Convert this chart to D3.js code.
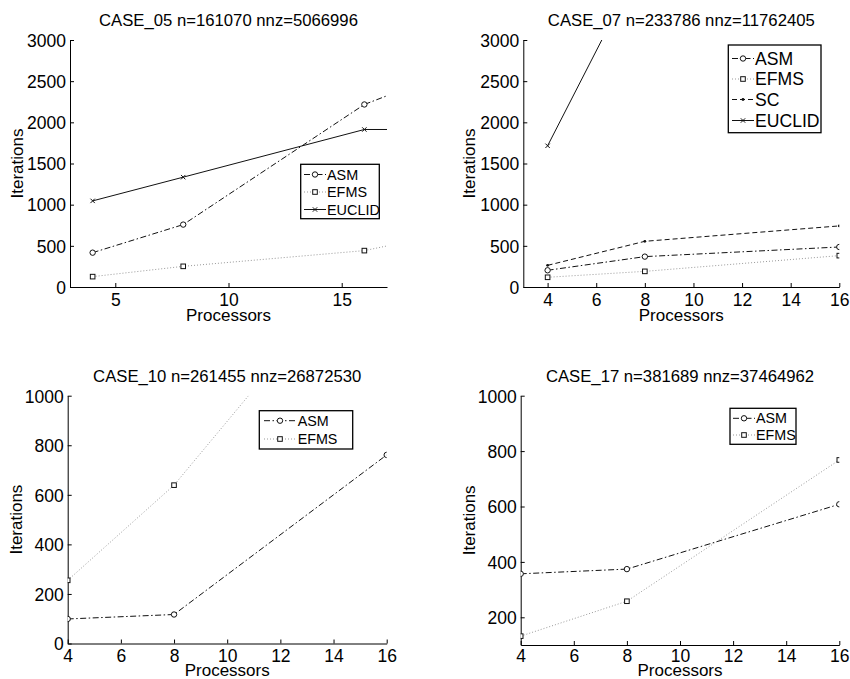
<!DOCTYPE html>
<html>
<head>
<meta charset="utf-8">
<script src="https://cdn.jsdelivr.net/npm/d3@7"></script>
<style>
  body { margin: 0; background: #fff; }
  svg { font-family: "Liberation Sans", Arial, sans-serif; }
  svg text { font-family: "Liberation Sans", Arial, sans-serif; }
</style>
</head>
<body>
<div id="main"></div>
<script>
// values (points past the axis limits are clipped)
const case05Procs = [4, 8, 16, 32];
const case05ASM = [417, 758, 2217, 3910];
const case05EFMS = [126, 251, 442, 1350];
const case05EUCLID = [1046, 1334, 1913, 1913];

const case07Procs = [4, 8, 16];
const case07ASM = [203, 369, 486];
const case07EFMS = [118, 190, 381];
const case07SC = [263, 555, 742];
const case07EUCLID = [1715, 4020, 5600];

const case10Procs = [4, 8, 16];
const case10ASM = [99, 117, 761];
const case10EFMS = [255, 639, 1670];

const case17Procs = [4, 8, 16];
const case17ASM = [357, 374, 608];
const case17EFMS = [132, 258, 768];

const titles = [
  'CASE_05 n=161070 nnz=5066996',
  'CASE_07 n=233786 nnz=11762405',
  'CASE_10 n=261455 nnz=26872530',
  'CASE_17 n=381689 nnz=37464962'
];

const styles = {
  ASM:    { color: '#111', dash: '6,2.5,1.5,2.5', marker: 'circle' },
  EFMS:   { color: '#999', dash: '1,2',           marker: 'square' },
  SC:     { color: '#111', dash: '5,3',           marker: 'dot' },
  EUCLID: { color: '#111', dash: null,            marker: 'cross' }
};

const panels = [
  { title: titles[0], procs: case05Procs,
    series: { ASM: case05ASM, EFMS: case05EFMS, EUCLID: case05EUCLID },
    xDomain: [3, 17], xTicks: [5, 10, 15], yDomain: [0, 3000], yTicks: d3.range(0, 3001, 500),
    l: 70, r: 387, t: 40, b: 287, xLabY: 321, yLabX: 17, titleY: 26, tickY: 306,
    legend: { x: 300.7, y: 164.3, w: 78.6, h: 54.4, rows: [174.5, 192, 209.5], s0: 304, s1: 326, tx: 327, fs: 14.4 } },
  { title: titles[1], procs: case07Procs,
    series: { ASM: case07ASM, EFMS: case07EFMS, SC: case07SC, EUCLID: case07EUCLID },
    xDomain: [3, 16], xTicks: d3.range(4, 17, 2), yDomain: [0, 3000], yTicks: d3.range(0, 3001, 500),
    l: 523.3, r: 839.3, t: 40, b: 287, xLabY: 321, yLabX: 469, titleY: 26, tickY: 306,
    legend: { x: 728.3, y: 45, w: 92.7, h: 87.7, rows: [58.5, 79, 99.5, 120.5], s0: 732, s1: 754, tx: 755, fs: 17.6 } },
  { title: titles[2], procs: case10Procs,
    series: { ASM: case10ASM, EFMS: case10EFMS },
    xDomain: [4, 16], xTicks: d3.range(4, 17, 2), yDomain: [0, 1000], yTicks: d3.range(0, 1001, 200),
    l: 67.7, r: 386.7, t: 395.7, b: 643.5, xLabY: 675.5, yLabX: 16, titleY: 382, tickY: 661.5,
    legend: { x: 259.3, y: 410.7, w: 93.4, h: 38.3, rows: [420.7, 439], s0: 264, s1: 296, tx: 297.7, fs: 14.3 } },
  { title: titles[3], procs: case17Procs,
    series: { ASM: case17ASM, EFMS: case17EFMS },
    xDomain: [4, 16], xTicks: d3.range(4, 17, 2), yDomain: [100, 1000], yTicks: d3.range(200, 1001, 200),
    l: 520.7, r: 839.3, t: 395.7, b: 645, xLabY: 675.5, yLabX: 469, titleY: 382, tickY: 661.5,
    legend: { x: 730, y: 408.3, w: 66, h: 36, rows: [418.3, 435], s0: 733, s1: 755, tx: 756, fs: 14.3 } }
];

const svg = d3.select('#main').append('svg').attr('width', 850).attr('height', 679);
svg.append('rect').attr('width', 850).attr('height', 679).attr('fill', '#fff');

function drawMarker(g, kind, cx, cy) {
  if (kind === 'circle') {
    g.append('circle').attr('cx', cx).attr('cy', cy).attr('r', 2.7)
      .attr('fill', '#fff').attr('stroke', '#111').attr('stroke-width', 1);
  } else if (kind === 'square') {
    g.append('rect').attr('x', cx - 2.3).attr('y', cy - 2.3).attr('width', 4.6).attr('height', 4.6)
      .attr('fill', '#fff').attr('stroke', '#111').attr('stroke-width', 1);
  } else if (kind === 'dot') {
    g.append('circle').attr('cx', cx).attr('cy', cy).attr('r', 1.4).attr('fill', '#111');
  } else {
    g.append('path').attr('d', `M${cx-2.2},${cy-2.2}L${cx+2.2},${cy+2.2}M${cx-2.2},${cy+2.2}L${cx+2.2},${cy-2.2}`)
      .attr('stroke', '#111').attr('stroke-width', 1);
  }
}

panels.forEach((p, pi) => {
  const x = d3.scaleLinear().domain(p.xDomain).range([p.l, p.r]);
  const y = d3.scaleLinear().domain(p.yDomain).range([p.b, p.t]);
  const g = svg.append('g');

  g.append('clipPath').attr('id', 'clip' + pi)
    .append('rect').attr('x', p.l).attr('y', p.t).attr('width', p.r - p.l).attr('height', p.b - p.t);

  // axes, MATLAB style: ticks pointing inward, no box
  const yAxis = d3.axisLeft(y).tickValues(p.yTicks).tickFormat(d3.format('d'))
    .tickSizeInner(-4).tickSizeOuter(0).tickPadding(4);
  const xAxis = d3.axisBottom(x).tickValues(p.xTicks).tickFormat(d3.format('d'))
    .tickSizeInner(-4).tickSizeOuter(0).tickPadding(6);

  const ya = g.append('g').attr('transform', `translate(${p.l},0)`).call(yAxis);
  const xa = g.append('g').attr('transform', `translate(0,${p.b})`).call(xAxis);
  [ya, xa].forEach(a => {
    a.attr('font-size', null).attr('font-family', null);
    a.select('.domain').attr('stroke', '#000').attr('stroke-width', 1);
    a.selectAll('.tick line').attr('stroke', '#000');
    a.selectAll('.tick text').attr('fill', '#000').style('font-size', '17.5px');
  });
  ya.selectAll('.tick text').attr('dy', '0.36em');
  xa.selectAll('.tick text').attr('dy', null).attr('y', p.tickY - p.b);

  // series lines
  const lineGen = d3.line().x(d => x(d[0])).y(d => y(d[1]));
  const plot = g.append('g').attr('clip-path', `url(#clip${pi})`);
  Object.keys(p.series).forEach(name => {
    const st = styles[name];
    const pts = p.procs.map((v, i) => [v, p.series[name][i]]);
    plot.append('path').attr('d', lineGen(pts)).attr('fill', 'none')
      .attr('stroke', st.color).attr('stroke-width', 1)
      .attr('stroke-dasharray', st.dash);
    pts.forEach(d => {
      if (d[0] <= p.xDomain[1] && d[1] <= p.yDomain[1]) drawMarker(plot, st.marker, x(d[0]), y(d[1]));
    });
  });

  // labels
  g.append('text').attr('x', (p.l + p.r) / 2).attr('y', p.titleY).attr('text-anchor', 'middle')
    .style('font-size', '16.7px').text(p.title);
  g.append('text').attr('x', (p.l + p.r) / 2).attr('y', p.xLabY).attr('text-anchor', 'middle')
    .style('font-size', '17px').text('Processors');
  g.append('text').attr('transform', `translate(${p.yLabX},${(p.t + p.b) / 2}) rotate(-90)`)
    .attr('text-anchor', 'middle').attr('dominant-baseline', 'central')
    .style('font-size', '17px').text('Iterations');

  // legend
  const L = p.legend;
  const lg = g.append('g');
  lg.append('rect').attr('x', L.x).attr('y', L.y).attr('width', L.w).attr('height', L.h)
    .attr('fill', '#fff').attr('stroke', '#000').attr('stroke-width', 1.3);
  Object.keys(p.series).forEach((name, i) => {
    const st = styles[name];
    const cy = L.rows[i];
    lg.append('line').attr('x1', L.s0).attr('x2', L.s1).attr('y1', cy).attr('y2', cy)
      .attr('stroke', st.color).attr('stroke-width', 1).attr('stroke-dasharray', st.dash);
    drawMarker(lg, st.marker, (L.s0 + L.s1) / 2, cy);
    lg.append('text').attr('x', L.tx).attr('y', cy).attr('dy', '0.36em')
      .style('font-size', L.fs + 'px').text(name);
  });
});
</script>
</body>
</html>
